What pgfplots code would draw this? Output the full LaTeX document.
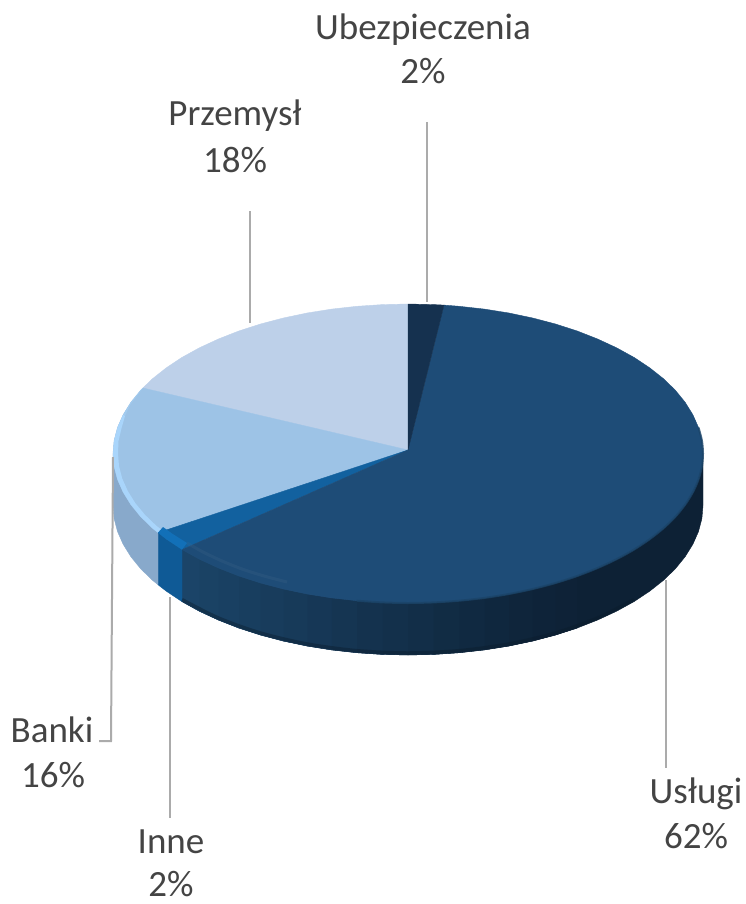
\documentclass[border=0pt]{standalone}
\usepackage{fontspec}
\setmainfont{Carlito}
\usepackage{pgfplots}
\pgfplotsset{compat=1.18}

\definecolor{uslugi}{HTML}{1E4C77}
\definecolor{ubezp}{HTML}{15314F}
\definecolor{inne}{HTML}{12619F}
\definecolor{inneBevel}{HTML}{1270B8}
\definecolor{inneSide}{HTML}{0F5A96}
\definecolor{banki}{HTML}{9DC3E6}
\definecolor{bankiRim}{HTML}{A9D5FB}
\definecolor{bankiSide}{HTML}{88A9CB}
\definecolor{przemysl}{HTML}{BDD0E9}
\definecolor{sideLt}{HTML}{1B4468}
\definecolor{sideDk}{HTML}{0D2135}
\definecolor{leader}{HTML}{ABABAB}
\definecolor{txt}{HTML}{444444}

% fill style of one piece, colour given once
\pgfplotsset{piece/.style={fill=#1, draw=#1, line width=0.4pt, mark=none, line join=round}}
\newcommand{\lab}[3]{\node[text=txt, font=\fontsize{37}{37}\selectfont, anchor=base, inner sep=0pt] at (axis cs:#1,#2) {#3};}

\begin{document}
\begin{tikzpicture}
  \path (0,0) rectangle (746pt,904pt);
  \begin{axis}[
    at={(0,0)}, anchor=south west,
    width=746pt, height=904pt, scale only axis,
    xmin=0, xmax=746, ymin=0, ymax=904, y dir=reverse,
    hide axis, clip=false]

    % side wall, Usługi: each strip runs one step under the next one
    \addplot[piece=sideDk] coordinates {(703,453.5) (701.9,466.5) (698.5,479.5) (692.9,492.2) (685.2,504.6) (675.4,516.7) (663.5,528.25) (649.7,539.2) (634,549.6) (616.6,559.2) (597.6,568) (577.2,576) (555.5,583) (555.5,635) (577.2,628) (597.6,620) (616.6,611.2) (634,601.6) (649.7,591.2) (663.5,580.25) (675.4,568.7) (685.2,556.6) (692.9,544.2) (698.5,531.5) (701.9,518.5) (703,505.5)} -- cycle;
    \addplot[piece=sideDk!96!sideLt] coordinates {(577.2,576) (555.5,583) (532.7,589) (532.7,641) (555.5,635) (577.2,628)} -- cycle;
    \addplot[piece=sideDk!93!sideLt] coordinates {(555.5,583) (532.7,589) (508.9,594) (508.9,646) (532.7,641) (555.5,635)} -- cycle;
    \addplot[piece=sideDk!88!sideLt] coordinates {(532.7,589) (508.9,594) (484.4,597.9) (484.4,649.9) (508.9,646) (532.7,641)} -- cycle;
    \addplot[piece=sideDk!83!sideLt] coordinates {(508.9,594) (484.4,597.9) (459.2,600.7) (459.2,652.7) (484.4,649.9) (508.9,646)} -- cycle;
    \addplot[piece=sideDk!77!sideLt] coordinates {(484.4,597.9) (459.2,600.7) (433.7,602.4) (433.7,654.4) (459.2,652.7) (484.4,649.9)} -- cycle;
    \addplot[piece=sideDk!70!sideLt] coordinates {(459.2,600.7) (433.7,602.4) (408,603) (408,655) (433.7,654.4) (459.2,652.7)} -- cycle;
    \addplot[piece=sideDk!63!sideLt] coordinates {(433.7,602.4) (408,603) (382.3,602.4) (382.3,654.4) (408,655) (433.7,654.4)} -- cycle;
    \addplot[piece=sideDk!56!sideLt] coordinates {(408,603) (382.3,602.4) (356.8,600.7) (356.8,652.7) (382.3,654.4) (408,655)} -- cycle;
    \addplot[piece=sideDk!50!sideLt] coordinates {(382.3,602.4) (356.8,600.7) (331.6,597.9) (331.6,649.9) (356.8,652.7) (382.3,654.4)} -- cycle;
    \addplot[piece=sideDk!43!sideLt] coordinates {(356.8,600.7) (331.6,597.9) (307.1,594) (307.1,646) (331.6,649.9) (356.8,652.7)} -- cycle;
    \addplot[piece=sideDk!36!sideLt] coordinates {(331.6,597.9) (307.1,594) (283.3,589) (283.3,641) (307.1,646) (331.6,649.9)} -- cycle;
    \addplot[piece=sideDk!30!sideLt] coordinates {(307.1,594) (283.3,589) (260.5,583) (260.5,635) (283.3,641) (307.1,646)} -- cycle;
    \addplot[piece=sideDk!24!sideLt] coordinates {(283.3,589) (260.5,583) (238.8,576) (238.8,628) (260.5,635) (283.3,641)} -- cycle;
    \addplot[piece=sideDk!18!sideLt] coordinates {(260.5,583) (238.8,576) (218.4,568) (218.4,620) (238.8,628) (260.5,635)} -- cycle;
    \addplot[piece=sideDk!12!sideLt] coordinates {(238.8,576) (218.4,568) (199.4,559.2) (199.4,611.2) (218.4,620) (238.8,628)} -- cycle;
    \addplot[piece=sideDk!7!sideLt] coordinates {(218.4,568) (199.4,559.2) (182,549.6) (182,601.6) (199.4,611.2) (218.4,620)} -- cycle;
    \addplot[piece=sideLt] coordinates {(199.4,559.2) (182,549.6) (182,601.6) (199.4,611.2)} -- cycle;

    % side wall, Inne and Banki
    \addplot[piece=inneSide] coordinates {(182,549.6) (166.3,539.2) (158,532.7) (158,584.7) (166.3,591.2) (182,601.6)} -- cycle;
    \addplot[piece=bankiSide] coordinates {(158,532.7) (152.5,528.25) (140.6,516.7) (130.8,504.6) (123.1,492.2) (117.5,479.5) (114.1,466.5) (113,453.5) (113,505.5) (114.1,518.5) (117.5,531.5) (123.1,544.2) (130.8,556.6) (140.6,568.7) (152.5,580.25) (158,584.7)} -- cycle;

    % dark lip along the bottom edge
    \addplot[sideDk!80!black, opacity=0.4, line width=3.5pt, smooth, mark=none] coordinates {(634,599.6) (597.6,618) (555.5,633) (508.9,644) (459.2,650.7) (408,653) (356.8,650.7) (307.1,644) (260.5,633) (218.4,618) (182,599.6)};

    % top face
    \addplot[piece=przemysl] coordinates {(408,450) (142.9,388) (152.5,378.75) (166.3,367.8) (182,357.4) (199.4,347.8) (218.4,339) (238.8,331) (260.5,324) (283.3,318) (307.1,313) (331.6,309.1) (356.8,306.3) (382.3,304.6) (408,304)} -- cycle;
    \addplot[piece=banki] coordinates {(408,450) (158,532.7) (152.5,528.25) (140.6,516.7) (130.8,504.6) (123.1,492.2) (117.5,479.5) (114.1,466.5) (113,453.5) (114.1,440.5) (117.5,427.5) (123.1,414.8) (130.8,402.4) (140.6,390.3) (142.9,388)} -- cycle;
    \addplot[piece=inne] coordinates {(408,450) (182,549.6) (166.3,539.2) (158,532.7)} -- cycle;
    \addplot[piece=uslugi] coordinates {(408,450) (444,305.1) (459.2,306.3) (484.4,309.1) (508.9,313) (532.7,318) (555.5,324) (577.2,331) (597.6,339) (616.6,347.8) (634,357.4) (649.7,367.8) (663.5,378.75) (675.4,390.3) (685.2,402.4) (692.9,414.8) (698.5,427.5) (701.9,440.5) (703,453.5) (701.9,466.5) (698.5,479.5) (692.9,492.2) (685.2,504.6) (675.4,516.7) (663.5,528.25) (649.7,539.2) (634,549.6) (616.6,559.2) (597.6,568) (577.2,576) (555.5,583) (532.7,589) (508.9,594) (484.4,597.9) (459.2,600.7) (433.7,602.4) (408,603) (382.3,602.4) (356.8,600.7) (331.6,597.9) (307.1,594) (283.3,589) (260.5,583) (238.8,576) (218.4,568) (199.4,559.2) (182,549.6)} -- cycle;
    \addplot[piece=ubezp] coordinates {(408,450) (408,304) (433.7,304.6) (444,305.1)} -- cycle;

    % bevels
    \addplot[piece=banki!55!bankiRim, draw=none] coordinates {(123.1,414.8) (130.8,402.4) (140.6,390.3) (142.9,388) (130,405) (125,416)} -- cycle;
    \addplot[piece=bankiRim, draw=none] coordinates {(158,532.7) (152.5,528.25) (140.6,516.7) (130.8,504.6) (123.1,492.2) (117.5,479.5) (114.1,466.5) (113,453.5) (114.1,440.5) (117.5,427.5) (123.1,414.8) (125,416) (121.5,428.3) (118.5,440.9) (118,453.5) (119,466.1) (122.3,478.7) (127.8,491) (135.3,503.1) (145,514.8) (156.6,526) (162,530)} -- cycle;
    \addplot[piece=inneBevel, draw=none] coordinates {(158,532.7) (166.3,539.2) (182,549.6) (187,543) (172,533.5) (163,527)} -- cycle;
    \addplot[uslugi!80!white, opacity=0.18, line width=3pt, smooth, mark=none] coordinates {(187,543) (203,552) (222,561) (242,569) (264,576) (287,582)};
    \addplot[sideLt, opacity=0.8, line width=2pt, smooth, mark=none] coordinates {(698.5,427.5) (701.9,440.5) (703,453.5) (701.9,466.5) (698.5,479.5) (692.9,492.2) (685.2,504.6) (675.4,516.7) (663.5,528.25) (649.7,539.2) (634,549.6) (616.6,559.2) (597.6,568) (577.2,576) (555.5,583) (532.7,589) (508.9,594) (484.4,597.9) (459.2,600.7) (433.7,602.4) (408,603) (382.3,602.4) (356.8,600.7)};

    % leader lines
    \addplot[leader, line width=2pt, mark=none] coordinates {(427,122) (427,302)};
    \addplot[leader, line width=2pt, mark=none] coordinates {(250,211) (250,323)};
    \addplot[leader, line width=2pt, mark=none] coordinates {(666,580) (666,768)};
    \addplot[leader, line width=2pt, mark=none] coordinates {(170,597) (170,818)};
    \addplot[leader, line width=2pt, mark=none] coordinates {(113,457) (111,741) (99,741)};

    % labels (y is the baseline)
    \lab{423}{40}{Ubezpieczenia}
    \lab{423}{84}{2\%}
    \lab{235}{126}{Przemysł}
    \lab{235}{172}{18\%}
    \lab{696}{803}{Usługi}
    \lab{696}{848}{62\%}
    \lab{171}{853}{Inne}
    \lab{171}{896}{2\%}
    \lab{52}{742}{Banki}
    \lab{53}{787}{16\%}
  \end{axis}
\end{tikzpicture}
\end{document}
